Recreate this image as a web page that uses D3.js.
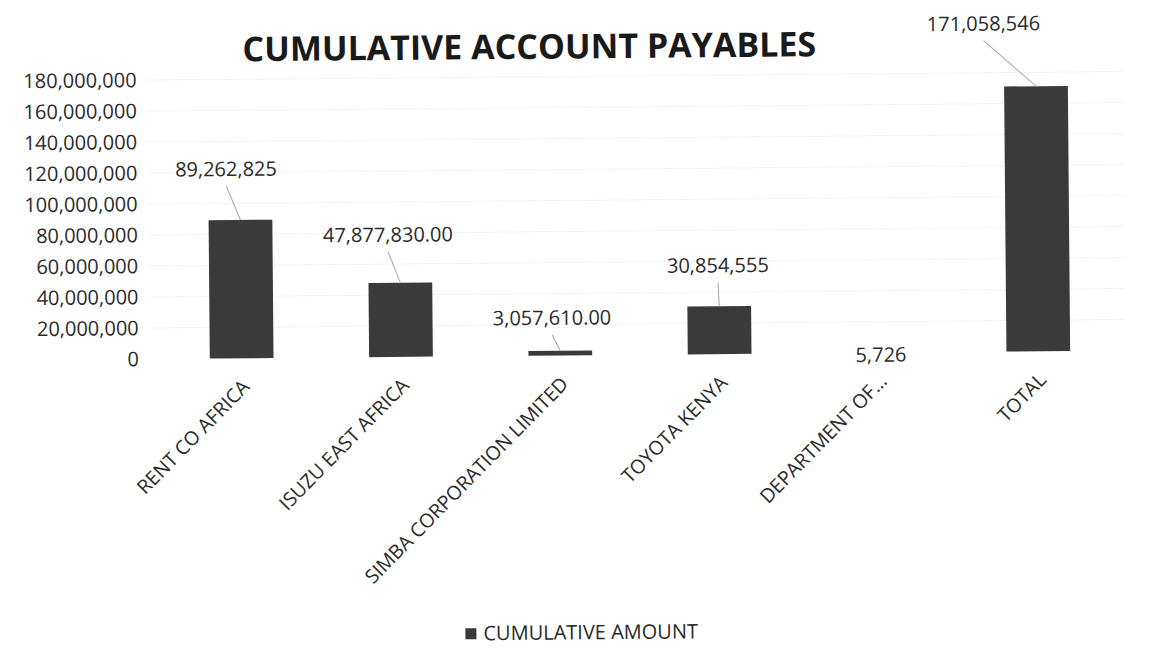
<!DOCTYPE html>
<html>
<head>
<meta charset="utf-8">
<script src="https://cdn.jsdelivr.net/npm/d3@7"></script>
<style>
  body { margin: 0; background: #fff; }
  text { font-family: "Open Sans", "Noto Sans", sans-serif; fill: #2a2a2a; }
</style>
</head>
<body>
<div id="chart_container"></div>
<script>
// values
var categories = ["RENT CO AFRICA", "ISUZU EAST AFRICA", "SIMBA CORPORATION LIMITED",
                  "TOYOTA KENYA", "DEPARTMENT OF…", "TOTAL"];
var amounts = [89262825, 47877830, 3057610, 30854555, 5726, 171058546];
var amountLabels = ["89,262,825", "47,877,830.00", "3,057,610.00", "30,854,555", "5,726", "171,058,546"];
var yTicks = [0, 20e6, 40e6, 60e6, 80e6, 100e6, 120e6, 140e6, 160e6, 180e6];

// where each data label sits relative to its bar top (layout, not data)
var labelShift = [[-14, -51], [-12, -48], [-8, -33], [-1, -41], [2, 2], [-52, -63]];
var hasLeader = [true, true, true, true, false, true];

var width = 1176, height = 660;

var svg = d3.select("#chart_container")
    .append("svg")
    .attr("width", width)
    .attr("height", height);

svg.append("rect").attr("width", width).attr("height", height).attr("fill", "#fff");

// the scanned chart is tilted slightly, so everything is drawn inside a rotated group
var chart = svg.append("g")
    .attr("transform", "rotate(-0.5,160,359)");

var x = d3.scaleBand()
    .domain(categories)
    .range([162, 1118])
    .paddingInner(0.6)
    .paddingOuter(0.3);

var y = d3.scaleLinear()
    .domain([0, 180e6])
    .range([359, 80]);

function cx(i) { return x(categories[i]) + x.bandwidth() / 2; }

// faint gridlines
chart.append("g")
    .selectAll("line")
    .data(yTicks.slice(1))
    .enter().append("line")
    .attr("x1", 150)
    .attr("x2", 1125)
    .attr("y1", function (d) { return y(d); })
    .attr("y2", function (d) { return y(d); })
    .style("stroke", "#f3f3f3")
    .style("stroke-width", 1);

// Y axis (labels only)
var yAxis = d3.axisLeft(y)
    .tickValues(yTicks)
    .tickSize(0)
    .tickPadding(0)
    .tickFormat(d3.format(","));

var yG = chart.append("g")
    .attr("transform", "translate(139,0)")
    .call(yAxis);
yG.select(".domain").remove();
yG.selectAll("text")
    .style("font-size", "20px")
    .style("font-family", null)
    .attr("fill", null);

// bars
chart.append("g")
    .selectAll("rect")
    .data(amounts)
    .enter().append("rect")
    .attr("x", function (d, i) { return x(categories[i]); })
    .attr("y", function (d) { return y(d); })
    .attr("width", x.bandwidth())
    .attr("height", function (d) { return y(0) - y(d); })
    .style("fill", "#3a3a3a");

// leader lines (by index so the label shifts stay aligned)
var leaderIdx = d3.range(amounts.length).filter(function (i) { return hasLeader[i]; });
chart.append("g")
    .selectAll("line")
    .data(leaderIdx)
    .enter().append("line")
    .attr("x1", function (i) { return cx(i) + labelShift[i][0]; })
    .attr("y1", function (i) { return y(amounts[i]) + labelShift[i][1] + 17; })
    .attr("x2", function (i) { return cx(i); })
    .attr("y2", function (i) { return y(amounts[i]); })
    .style("stroke", "#a8a8a8")
    .style("stroke-width", 1);

// data labels
chart.append("g")
    .selectAll("text")
    .data(amounts)
    .enter().append("text")
    .attr("x", function (d, i) { return cx(i) + labelShift[i][0]; })
    .attr("y", function (d, i) { return y(d) + labelShift[i][1]; })
    .attr("dy", "0.35em")
    .attr("text-anchor", "middle")
    .style("font-size", "20px")
    .text(function (d, i) { return amountLabels[i]; });

// category labels, rotated
var xAxis = d3.axisBottom(x).tickSize(0).tickPadding(0);
var xG = chart.append("g")
    .attr("transform", "translate(0,359)")
    .call(xAxis);
xG.select(".domain").remove();
xG.selectAll("text")
    .style("font-size", "19.5px")
    .style("font-family", null)
    .attr("fill", null)
    .attr("text-anchor", "end")
    .attr("dy", "0.35em")
    .attr("y", 0)
    .attr("transform", "translate(4,25) rotate(-45)");

// title
chart.append("text")
    .attr("x", 532)
    .attr("y", 62)
    .attr("text-anchor", "middle")
    .style("font-size", "34px")
    .style("font-weight", "bold")
    .style("fill", "#1a1a1a")
    .text("CUMULATIVE ACCOUNT PAYABLES");

// legend
var legend = chart.append("g").attr("transform", "translate(463,636)");
legend.append("rect")
    .attr("x", 0).attr("y", -5)
    .attr("width", 11).attr("height", 11)
    .style("fill", "#3a3a3a");
legend.append("text")
    .attr("x", 18)
    .attr("dy", "0.35em")
    .style("font-size", "20px")
    .text("CUMULATIVE AMOUNT");
</script>
</body>
</html>
